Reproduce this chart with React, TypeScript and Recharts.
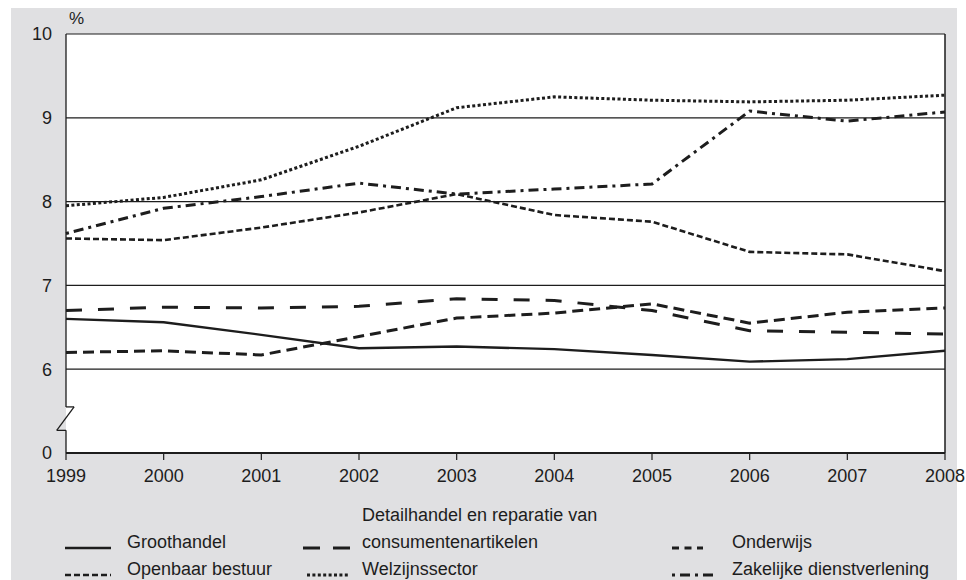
import { LineChart, Line, XAxis, YAxis, CartesianGrid, ReferenceLine } from 'recharts';

// Aandeel per sector (%), 1999-2008
const years = [1999, 2000, 2001, 2002, 2003, 2004, 2005, 2006, 2007, 2008];
const groothandel = [6.6, 6.56, 6.41, 6.25, 6.27, 6.24, 6.17, 6.09, 6.12, 6.22];
const detailhandel = [6.7, 6.74, 6.73, 6.75, 6.84, 6.82, 6.7, 6.46, 6.44, 6.42];
const onderwijs = [6.2, 6.22, 6.17, 6.39, 6.61, 6.67, 6.78, 6.55, 6.68, 6.73];
const openbaarBestuur = [7.56, 7.54, 7.69, 7.87, 8.09, 7.84, 7.76, 7.4, 7.37, 7.17];
const welzijnssector = [7.95, 8.05, 8.26, 8.66, 9.12, 9.25, 9.21, 9.19, 9.21, 9.27];
const zakelijk = [7.62, 7.92, 8.06, 8.22, 8.09, 8.15, 8.21, 9.08, 8.96, 9.07];

// 5 on the scale stands in for the "0" below the axis break
const yTicks = [5, 6, 7, 8, 9, 10];

const INK = '#1d1d1d';
const FONT = '"Liberation Sans", Arial, Helvetica, sans-serif';

const series = [
  { key: 'groothandel', name: 'Groothandel', values: groothandel, dash: undefined, width: 2.4 },
  { key: 'detailhandel', name: 'Detailhandel', values: detailhandel, dash: '16 16', width: 3 },
  { key: 'onderwijs', name: 'Onderwijs', values: onderwijs, dash: '11 6', width: 3 },
  { key: 'openbaar', name: 'Openbaar bestuur', values: openbaarBestuur, dash: '6 3', width: 2.6 },
  { key: 'welzijn', name: 'Welzijnssector', values: welzijnssector, dash: '3 2.4', width: 3 },
  { key: 'zakelijk', name: 'Zakelijke dienstverlening', values: zakelijk, dash: '3 5 10 5', width: 3 },
];

const chartData = years.map((year, i) => {
  const row: Record<string, number> = { year };
  series.forEach((s) => (row[s.key] = s.values[i]));
  return row;
});

// zigzag on the y axis between 0 and 6
const breakTop = 5.55;
const breakBottom = 5.27;
const axisSegments = [
  [{ x: 1999, y: 10 }, { x: 1999, y: breakTop }],
  [{ x: 1999, y: breakTop }, { x: 1999.083, y: breakTop }],
  [{ x: 1999.083, y: breakTop }, { x: 1998.905, y: breakBottom }],
  [{ x: 1998.905, y: breakBottom }, { x: 1999, y: breakBottom }],
  [{ x: 1999, y: breakBottom }, { x: 1999, y: 5 }],
];

function LegendEntry({ left, top, dash, width, lines, sampleLeft, sampleW }: any) {
  return (
    <>
      <svg width={sampleW} height={8} style={{ position: 'absolute', left: sampleLeft, top: top + 11 }}>
        <line x1={0} y1={4} x2={sampleW} y2={4} stroke={INK} strokeWidth={width} strokeDasharray={dash} />
      </svg>
      {lines.map((t: string, i: number) => (
        <div
          key={t}
          style={{
            position: 'absolute',
            left,
            top: top - (lines.length - 1 - i) * 27,
            fontSize: 18,
            lineHeight: '18px',
            whiteSpace: 'nowrap',
            color: INK,
          }}
        >
          {t}
        </div>
      ))}
    </>
  );
}

export default function App() {
  return (
    <div style={{ position: 'absolute', left: 0, top: 0, width: 966, height: 580, background: '#fff', overflow: 'hidden', fontFamily: FONT }}>
      <div style={{ position: 'absolute', left: 11, top: 8, width: 946, height: 572, background: '#e0e0e2' }} />
      <div style={{ position: 'absolute', left: 69, top: 10, fontSize: 17, lineHeight: '17px', color: INK }}>%</div>
      <div style={{ position: 'absolute', left: 0, top: 0 }}>
        <LineChart width={966} height={500} data={chartData} margin={{ top: 34, right: 21, left: 26, bottom: 17 }}>
          <CartesianGrid vertical={false} stroke={INK} strokeWidth={1.2} fill="#fff" fillOpacity={1} />
          <XAxis
            type="number"
            dataKey="year"
            domain={[1999, 2008]}
            ticks={years}
            interval={0}
            height={30}
            tickSize={7}
            tickMargin={9}
            axisLine={{ stroke: INK, strokeWidth: 2 }}
            tickLine={{ stroke: INK, strokeWidth: 1.2 }}
            tick={{ fill: INK, fontSize: 18, fontFamily: FONT }}
          />
          <YAxis
            type="number"
            domain={[5, 10]}
            ticks={yTicks}
            interval={0}
            width={40}
            axisLine={false}
            tickLine={false}
            tickSize={6}
            tickMargin={8}
            tickFormatter={(v: number) => (v === 5 ? '0' : String(v))}
            tick={{ fill: INK, fontSize: 18, fontFamily: FONT }}
          />
          <ReferenceLine x={2008} stroke={INK} strokeWidth={1.5} />
          {axisSegments.map((seg, i) => (
            <ReferenceLine key={i} segment={seg} stroke={INK} strokeWidth={1.3} ifOverflow="visible" />
          ))}
          {series.map((s) => (
            <Line
              key={s.key}
              dataKey={s.key}
              name={s.name}
              type="linear"
              stroke={INK}
              strokeWidth={s.width}
              strokeDasharray={s.dash}
              dot={false}
              activeDot={false}
              isAnimationActive={false}
            />
          ))}
        </LineChart>
      </div>

      <LegendEntry left={127} top={533} sampleLeft={65} sampleW={46} lines={['Groothandel']} width={2.4} />
      <LegendEntry left={127} top={560} sampleLeft={65} sampleW={46} lines={['Openbaar bestuur']} dash="6 3" width={2.6} />
      <LegendEntry
        left={362}
        top={533}
        sampleLeft={303}
        sampleW={47}
        lines={['Detailhandel en reparatie van', 'consumentenartikelen']}
        dash="17 13"
        width={3}
      />
      <LegendEntry left={362} top={560} sampleLeft={307} sampleW={43} lines={['Welzijnssector']} dash="3 2.4" width={3} />
      <LegendEntry left={732} top={533} sampleLeft={672} sampleW={31} lines={['Onderwijs']} dash="7 5.5" width={3} />
      <LegendEntry left={732} top={560} sampleLeft={672} sampleW={45} lines={['Zakelijke dienstverlening']} dash="3 5 10 5" width={3} />
    </div>
  );
}
